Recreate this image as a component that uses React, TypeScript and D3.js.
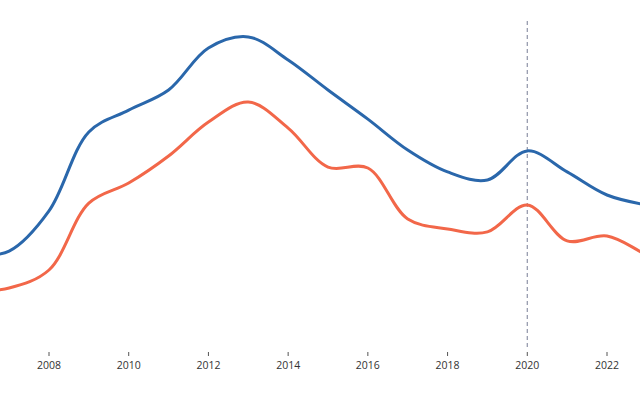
import React from "react";
import * as d3 from "d3";

const years = [2006, 2007, 2008, 2009, 2010, 2011, 2012, 2013, 2014, 2015, 2016, 2017, 2018, 2019, 2020, 2021, 2022, 2023];
const seriesA = [24.7, 26.3, 39.7, 66, 73.3, 80, 94, 97.7, 90, 80, 70.3, 60, 52.7, 50, 59.7, 52.7, 45, 41.7];
const seriesB = [13, 14, 20, 42.3, 49, 58, 69.3, 76, 67.3, 54.3, 54, 37, 33.7, 32.7, 41.7, 29.7, 31.3, 24.7];
const tickYears = [2008, 2010, 2012, 2014, 2016, 2018, 2020, 2022];
const markerYear = 2020;

const W = 640;
const H = 400;

export default function App() {
  const x = d3.scaleLinear().domain([2008, 2022]).range([49, 607]);
  const y = d3.scaleLinear().domain([0, 100]).range([330, 30]);
  const line = d3
    .line<number>()
    .x((_, i) => x(years[i]))
    .y((d) => y(d))
    .curve(d3.curveCatmullRom.alpha(0.5));

  return (
    <svg
      width={W}
      height={H}
      style={{ position: "fixed", left: 0, top: 0, background: "#fff" }}
      fontFamily="'Open Sans', 'Noto Sans', sans-serif"
    >
      <line
        x1={x(markerYear)}
        x2={x(markerYear)}
        y1={21}
        y2={350}
        stroke="#8f93a8"
        strokeWidth={1.2}
        strokeDasharray="4,3"
      />
      <path d={line(seriesA) || ""} fill="none" stroke="#2a67ab" strokeWidth={3} />
      <path d={line(seriesB) || ""} fill="none" stroke="#f26749" strokeWidth={3} />
      {tickYears.map((t) => (
        <g key={t} transform={`translate(${x(t)},0)`}>
          <line y1={352} y2={356} stroke="#555" strokeWidth={1} />
          <text y={368.5} textAnchor="middle" fontSize={10.5} fill="#333">
            {t}
          </text>
        </g>
      ))}
    </svg>
  );
}
